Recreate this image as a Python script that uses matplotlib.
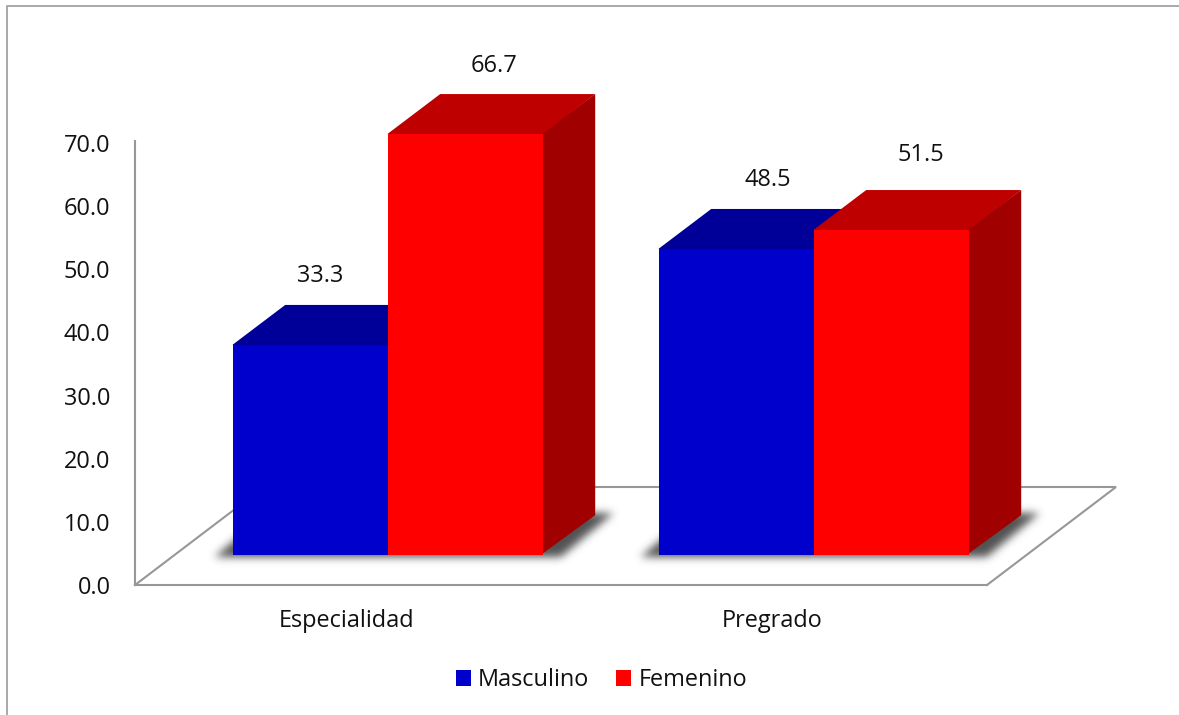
import numpy as np
import matplotlib
matplotlib.use("Agg")
import matplotlib.pyplot as plt
from matplotlib.lines import Line2D
from matplotlib.patches import Patch
from matplotlib.path import Path

categories = ["Especialidad", "Pregrado"]
series_names = ["Masculino", "Femenino"]
masculino = [33.3, 48.5]
femenino = [66.7, 51.5]
y_ticks = [0, 10, 20, 30, 40, 50, 60, 70]

# Per-label offsets in pixels from the front-top centre of each bar
label_offsets = {"Masculino": [(10, 68.5), (32, 69)], "Femenino": [(29, 68), (30, 74.5)]}

FRONT = {"Masculino": "#0000CC", "Femenino": "#FF0000"}
TOP = {"Masculino": "#000099", "Femenino": "#BF0000"}
SIDE = {"Masculino": "#00007A", "Femenino": "#A00000"}
GRID = "#979797"
FONT = "Open Sans"
FS = 16.9

W, H = 1179, 715
plt.rcParams["font.family"] = FONT
fig = plt.figure(figsize=(W / 100, H / 100), dpi=100, facecolor="white")

# Axes box runs along the front floor edge and the value axis
ax = fig.add_axes([135 / W, (H - 585) / H, (987 - 135) / W, (585 - 141) / H])
ax.set_zorder(1)
ax.patch.set_visible(False)
ax.set_xlim(0, 2)
ax.set_ylim(0, 70.32)

px_x = 2 / (987 - 135)
px_y = 70.32 / (585 - 141)

# Oblique projection constants
bar_w = 155 * px_x
group_shift = 39.6 * px_x
base = 30 * px_y
depth_x, depth_y = 52.6 * px_x, 39.8 * px_y
floor_x, floor_y = 129 * px_x, 98 * px_y

# Floor outline behind the bars
ax.plot([0, floor_x, 2 + floor_x, 2], [0, floor_y, floor_y, 0],
        color=GRID, lw=1.5, clip_on=False, zorder=1, solid_joinstyle="miter")

for s in ("top", "right"):
    ax.spines[s].set_visible(False)
for s in ("left", "bottom"):
    ax.spines[s].set_color(GRID)
    ax.spines[s].set_linewidth(1.5)

ax.set_yticks(y_ticks)
ax.set_yticklabels([f"{v:.1f}" for v in y_ticks], fontsize=FS, color="#111111")
ax.set_xticks([i + 0.5 - 0.004 for i in range(len(categories))])
ax.set_xticklabels(categories, fontsize=FS, color="#111111")
ax.tick_params(axis="y", length=0, pad=17.7)
ax.tick_params(axis="x", length=0, pad=17.5)

# Cuboid bars: side and top faces tuck under the front face so no seam shows
series = [("Masculino", masculino, -0.5), ("Femenino", femenino, 0.5)]
for name, values, off in series:
    for i, v in enumerate(values):
        x0 = i + 0.5 + group_shift + off * bar_w - bar_w / 2
        x1 = x0 + bar_w
        top = base + v
        z = 3 + off
        ax.fill([x1 - 2 * px_x, x1 + depth_x, x1 + depth_x, x1 - 2 * px_x],
                [base, base + depth_y, top + depth_y, top],
                color=SIDE[name], lw=0, clip_on=False, zorder=z)
        ax.fill([x0 + 2 * px_x, x1 - 2 * px_x, x1, x1 + depth_x, x0 + depth_x, x0],
                [top - 2 * px_y, top - 2 * px_y, top, top + depth_y, top + depth_y, top],
                color=TOP[name], lw=0, clip_on=False, zorder=z)
        ax.bar(x0, v, width=bar_w, bottom=base, align="edge",
               color=FRONT[name], lw=0, clip_on=False, zorder=z + 0.1)
        dx, dy = label_offsets[name][i]
        ax.annotate(f"{v:.1f}", (x0 + bar_w / 2, top), xytext=(dx * 0.72, dy * 0.72),
                    textcoords="offset points", ha="center", va="center",
                    fontsize=FS, color="#111111", annotation_clip=False, zorder=6)

# Soft contact shadow cast by each group on the floor
yy, xx = np.mgrid[0:H, 0:W]
pts = np.column_stack([xx.ravel() + 0.5, yy.ravel() + 0.5])
mask = np.zeros((H, W))
for i in range(len(categories)):
    x0 = i + 0.5 + group_shift - bar_w
    x1 = i + 0.5 + group_shift + bar_w
    corners = ax.transData.transform([(x0, base), (x1, base),
                                      (x1 + depth_x, base + depth_y),
                                      (x0 + depth_x, base + depth_y)])
    corners[:, 1] = H - corners[:, 1]
    corners += np.array([[-18, 2], [18, 2], [18, -2], [-18, -2]])
    mask += Path(corners).contains_points(pts).reshape(H, W)
t = np.arange(-14, 15)
kernel = np.exp(-t ** 2 / (2 * 4.2 ** 2))
kernel /= kernel.sum()
mask = np.apply_along_axis(lambda r: np.convolve(r, kernel, mode="same"), 0, mask)
mask = np.apply_along_axis(lambda r: np.convolve(r, kernel, mode="same"), 1, mask)
rgba = np.zeros((H, W, 4))
rgba[..., :3] = 0.2
rgba[..., 3] = np.clip(mask, 0, 1) * 0.85
fig.figimage(rgba, 0, 0, origin="upper", zorder=0, resize=False)

# Chart-area border along the top and left
fig.add_artist(Line2D([7.5 / W, 7.5 / W, 1], [0, (H - 5.5) / H, (H - 5.5) / H],
                      color="#A3A3A3", lw=1.3, transform=fig.transFigure))

handles = [Patch(facecolor=FRONT[n], edgecolor="none", label=n) for n in series_names]
fig.legend(handles=handles, ncol=2, frameon=False, fontsize=FS,
           loc="center", bbox_to_anchor=(601.5 / W, (H - 680) / H),
           handlelength=0.64, handleheight=0.64, handletextpad=0.3,
           columnspacing=1.15, borderpad=0, labelcolor="#111111")

fig.savefig("out.png", dpi=100, facecolor="white")
